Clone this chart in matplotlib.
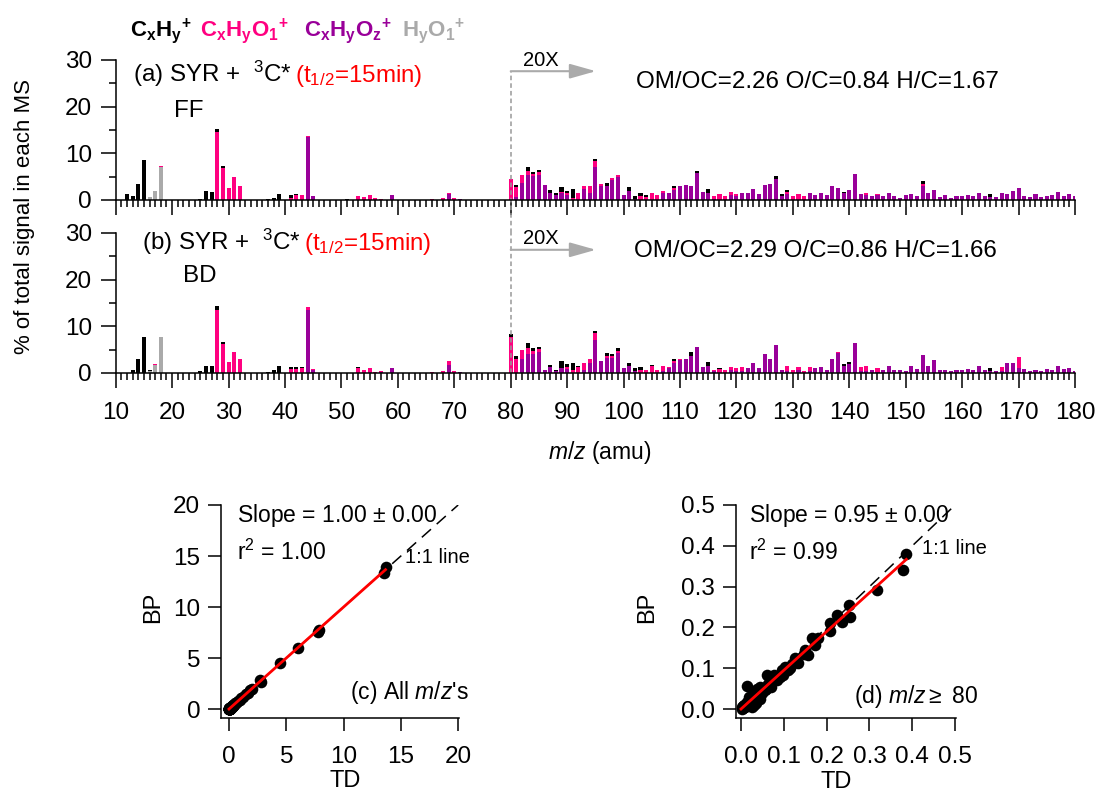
import numpy as np
import matplotlib
matplotlib.use('Agg')
import matplotlib.pyplot as plt

plt.rcParams['font.family'] = ['Liberation Sans', 'DejaVu Sans']
plt.rcParams['mathtext.fontset'] = 'custom'
plt.rcParams['mathtext.rm'] = 'Liberation Sans'
plt.rcParams['mathtext.it'] = 'Liberation Sans:italic'
plt.rcParams['mathtext.bf'] = 'Liberation Sans:bold'

# m/z 10..180, one value per m/z (values for m/z >= 80 are shown x20)
mz = np.arange(10, 181)

# (a) FF
ff_cxhy = [
    0, 0, 1.3, 0.85, 3.4, 8.6, 0, 0, 0, 0,
    0, 0, 0, 0, 0.1, 0.3, 1.9, 1.7, 0.6, 0.5,
    0, 0, 0, 0, 0, 0, 0.1, 0.3, 0.5, 1.3,
    0.1, 0.5, 0.2, 0.1, 0, 0, 0, 0, 0, 0,
    0.1, 0.2, 0.1, 0.1, 0, 0, 0, 0, 0, 0,
    0, 0, 0, 0, 0, 0, 0, 0, 0, 0,
    0, 0, 0, 0, 0, 0, 0, 0, 0, 0,
    0, 0.5, 0, 0.7, 0.4, 0.5, 0, 0.5, 0.4, 1.0,
    0.6, 1.8, 0, 0, 0, 0.4, 0, 0.7, 0, 0,
    0, 0.9, 0.6, 0.7, 0.3, 0, 0, 0, 0, 0.4,
    0, 0, 0, 0.6, 0, 0.9, 0, 0, 0, 0,
    0, 0, 0, 0, 0, 0, 0, 0.7, 0.3, 0.4,
    0, 0, 0, 0, 0, 0, 0, 0, 0, 0.2,
    0, 0, 0, 0, 0, 0, 0, 0, 0, 0,
    0, 0, 0, 0.7, 0, 0, 0, 0, 0, 0,
    0, 0, 0, 0, 0, 0.5, 0, 0, 0, 0,
    0, 0, 0, 0, 0, 0, 0, 0, 0, 0,
    0]
ff_cxhyo1 = [
    0, 0, 0, 0, 0, 0, 0, 0, 0.2, 0,
    0, 0, 0, 0, 0, 0, 0, 0, 14.6, 6.8,
    2.5, 4.9, 3.0, 0, 0, 0, 0, 0, 0, 0,
    0, 0.5, 1.1, 1.0, 0.2, 0, 0, 0, 0, 0,
    0, 0, 0, 0.8, 0.6, 1.0, 0.4, 0.3, 0, 0,
    0, 0, 0, 0, 0, 0, 0.3, 0, 0.5, 0.3,
    0.4, 0, 0, 0, 0, 0, 0, 0, 0, 0,
    4.4, 2.1, 1.8, 0.9, 0.4, 0.6, 0, 0, 0, 0.4,
    0.4, 0.5, 1.4, 0.8, 1.6, 1.3, 0.5, 0, 0.6, 0.4,
    0, 0, 0, 0.9, 0.7, 1.5, 1.1, 0.6, 0, 0.4,
    0, 0, 0, 0, 0, 0, 0.6, 1.2, 0.8, 0.8,
    0.4, 0, 0, 0, 0, 0, 0, 0, 0, 0.4,
    0.9, 1.3, 0.9, 0, 0, 0, 0, 0, 0, 0,
    0, 0, 0, 0.5, 0, 0.2, 0, 0, 0, 0,
    0, 0, 0, 0.3, 0, 0, 0, 0, 0, 0,
    0, 0, 0, 0, 0, 0, 0, 0, 0, 0,
    0, 0, 0, 0, 0, 0, 0, 0, 0, 0,
    0]
ff_cxhyoz = [
    0, 0, 0, 0, 0, 0, 0, 0, 0, 0,
    0, 0, 0, 0, 0, 0, 0, 0, 0, 0,
    0, 0, 0, 0, 0, 0, 0, 0, 0, 0,
    0, 0, 0, 0, 13.5, 0.8, 0, 0, 0, 0,
    0, 0, 0, 0, 0, 0, 0, 0, 0, 1.0,
    0, 0, 0, 0, 0, 0, 0, 0, 0, 1.3,
    0, 0.3, 0, 0, 0, 0, 0, 0, 0, 0,
    0, 0.7, 3.6, 5.4, 5.1, 5.3, 3.2, 1.6, 1.0, 1.4,
    1.0, 0, 0, 2.3, 1.5, 7.1, 2.9, 2.9, 4.2, 4.9,
    1.1, 1.9, 0.3, 0, 0, 0, 0, 1.4, 1.4, 2.1,
    3.1, 3.2, 3.1, 5.7, 1.7, 1.5, 0.2, 0, 0, 1.0,
    0.8, 1.5, 1.5, 2.4, 1.3, 3.2, 3.4, 4.4, 0.9, 1.3,
    0, 0, 0, 1.6, 1.1, 1.5, 1.1, 2.9, 2.6, 1.6,
    2.1, 5.6, 1.3, 1.1, 0.9, 1.0, 0.9, 1.4, 0.9, 0.4,
    1.1, 1.3, 0.9, 3.1, 1.5, 2.1, 0.7, 1.1, 0.5, 0.9,
    0.9, 1.1, 0.9, 1.6, 0.9, 0.7, 0.6, 1.5, 1.3, 1.9,
    2.6, 0.9, 0.7, 1.3, 0.7, 0.9, 1.1, 1.7, 0.9, 1.3,
    0.9]
ff_hyo1 = [0, 0, 0, 0, 0, 0, 0.6, 1.9, 7.1, 0] + [0] * 161

# (b) BD
bd_cxhy = [
    0, 0, 0, 0.7, 2.9, 7.8, 0.1, 0, 0, 0,
    0, 0, 0, 0, 0.1, 0.5, 1.6, 1.6, 0.7, 0.4,
    0, 0, 0, 0, 0, 0, 0, 0.2, 0.6, 1.4,
    0, 0.4, 0.3, 0.1, 0, 0, 0, 0, 0, 0,
    0.1, 0.1, 0.1, 0.1, 0, 0, 0, 0, 0, 0,
    0, 0, 0, 0, 0, 0, 0, 0, 0, 0,
    0, 0, 0, 0, 0, 0, 0, 0, 0, 0,
    0.6, 0.6, 0, 1.1, 0.5, 0.5, 0, 0.5, 0.2, 1.4,
    0.6, 1.6, 0.3, 0, 0, 0.4, 0, 0.6, 0.4, 0.6,
    0, 0.5, 0.6, 0.6, 0, 0.15, 0, 0, 0, 0.4,
    0, 0, 0.7, 0, 0, 0.8, 0, 0.2, 0, 0,
    0, 0, 0, 0, 0, 0, 0, 0, 0, 0,
    0, 0, 0, 0, 0, 0, 0, 0, 0, 0.3,
    0.3, 0, 0, 0, 0, 0, 0, 0, 0, 0,
    0, 0, 0, 0, 0, 0, 0, 0, 0, 0,
    0, 0, 0, 0, 0, 0.6, 0, 0, 0, 0,
    0, 0, 0, 0, 0, 0, 0, 0, 0, 0,
    0]
bd_cxhyo1 = [
    0, 0, 0, 0, 0, 0, 0, 0.2, 0, 0,
    0, 0, 0, 0, 0, 0, 0, 0, 13.6, 6.3,
    2.3, 4.4, 2.9, 0, 0, 0, 0, 0, 0, 0,
    0, 0.9, 0.9, 1.1, 0.5, 0.2, 0, 0, 0, 0,
    0, 0, 0, 1.1, 0.6, 1.1, 0.3, 0.2, 0, 0,
    0, 0, 0, 0, 0, 0, 0.2, 0, 0.4, 0.7,
    0.3, 0, 0, 0, 0, 0, 0, 0, 0, 0,
    7.7, 3.0, 2.0, 1.2, 0.7, 0.5, 0, 0, 0, 0,
    0.4, 0.6, 1.3, 1.4, 1.0, 1.4, 0, 0.4, 0.4, 0.4,
    0, 0, 0, 0.7, 0.6, 1.6, 0.7, 1.1, 0.3, 0.4,
    0.4, 0, 0, 0, 0, 0, 0.2, 0.8, 0.6, 0.7,
    0.6, 0.9, 0, 0, 0, 0, 0, 0, 0, 0.9,
    0.6, 0.7, 0.5, 0.7, 0, 0, 0, 0, 0.3, 0,
    0, 0, 0.9, 0.9, 0, 0.7, 0, 0, 0, 0,
    0, 0, 0, 0, 0, 0, 0, 0, 0, 0,
    0, 0, 0, 0, 0, 0, 0, 0.8, 0, 0,
    2.4, 0, 0, 0, 0, 0, 0, 0, 0, 0,
    0]
bd_cxhyoz = [
    0, 0, 0, 0, 0, 0, 0, 0, 0, 0,
    0, 0, 0, 0, 0, 0, 0, 0, 0, 0,
    0, 0, 0, 0, 0, 0, 0, 0, 0, 0,
    0, 0, 0, 0, 13.6, 0.6, 0, 0, 0, 0,
    0, 0, 0, 0, 0, 0, 0, 0.2, 0, 1.1,
    0, 0, 0, 0, 0, 0, 0, 0, 0, 1.8,
    0.1, 0.3, 0, 0, 0, 0, 0, 0, 0, 0,
    0, 0, 2.9, 4.1, 4.1, 4.6, 0.7, 1.3, 0.5, 1.1,
    0.9, 0, 0, 0.7, 2.1, 7.1, 2.6, 3.2, 3.2, 4.3,
    1.1, 1.6, 0.5, 0, 0, 0, 0, 0.5, 1.0, 2.1,
    2.7, 3.0, 3.7, 5.5, 1.2, 1.6, 0.4, 0, 0, 0.6,
    0.4, 0.4, 1.0, 2.1, 1.0, 4.1, 2.9, 6.1, 0.6, 0.5,
    0, 0.6, 0, 0.5, 1.0, 1.2, 0.7, 2.9, 4.3, 1.6,
    2.0, 6.4, 0.4, 0.5, 0.6, 0.3, 0.6, 1.4, 0.6, 0.6,
    0.4, 1.4, 0.8, 3.8, 1.4, 2.7, 0.6, 0.6, 0.4, 0.6,
    0.6, 0.8, 0.6, 1.6, 0.6, 0.4, 0.4, 0.4, 2.1, 2.1,
    1.1, 0.8, 0.4, 0.6, 0.4, 0.8, 0.6, 1.4, 0.8, 1.1,
    0.5]
bd_hyo1 = [0, 0, 0, 0, 0, 0, 0.5, 1.8, 7.8, 0] + [0] * 161

# scatter: TD vs BP
td_low = [13.66, 13.55, 7.85, 7.73, 5.99, 4.45, 2.79, 2.70, 2.03, 1.83, 1.62, 1.45,
          1.25, 1.05, 0.92, 0.78, 0.65, 0.52, 0.42, 0.33, 0.25, 0.18, 0.12, 0.08, 0.05, 0.03]
bp_low = [13.95, 13.37, 7.70, 7.58, 5.95, 4.48, 2.68, 2.84, 1.96, 1.86, 1.55, 1.50,
          1.15, 1.10, 0.88, 0.82, 0.60, 0.55, 0.40, 0.36, 0.22, 0.20, 0.10, 0.09, 0.04, 0.03]
td_high = [0.386, 0.378, 0.317, 0.251, 0.255, 0.224, 0.235, 0.208, 0.208, 0.165, 0.173, 0.157,
           0.146, 0.126, 0.134, 0.114, 0.103, 0.099, 0.076, 0.060, 0.044, 0.013, 0.120, 0.110,
           0.095, 0.150, 0.180, 0.070, 0.090, 0.085, 0.080, 0.072, 0.068, 0.063, 0.058, 0.055,
           0.052, 0.050, 0.047, 0.045, 0.042, 0.040, 0.038, 0.036, 0.034, 0.032, 0.030, 0.028,
           0.026, 0.024, 0.022, 0.020, 0.019, 0.017, 0.015, 0.014, 0.012, 0.011, 0.009, 0.008,
           0.006, 0.005, 0.004, 0.003, 0.002, 0.025, 0.030, 0.035, 0.045, 0.018, 0.028, 0.038]
bp_high = [0.379, 0.341, 0.292, 0.255, 0.226, 0.230, 0.214, 0.210, 0.190, 0.173, 0.157, 0.132,
           0.136, 0.124, 0.112, 0.100, 0.104, 0.083, 0.083, 0.083, 0.055, 0.056, 0.110, 0.095,
           0.095, 0.145, 0.175, 0.055, 0.078, 0.070, 0.072, 0.066, 0.060, 0.062, 0.050, 0.046,
           0.052, 0.040, 0.043, 0.036, 0.047, 0.030, 0.040, 0.025, 0.036, 0.028, 0.034, 0.020,
           0.030, 0.016, 0.024, 0.012, 0.020, 0.015, 0.010, 0.018, 0.008, 0.013, 0.006, 0.010,
           0.004, 0.007, 0.002, 0.005, 0.001, 0.005, 0.010, 0.015, 0.025, 0.030, 0.040, 0.050]
slope_all = 1.00
slope_high = 0.95

black = '#000000'
pink = '#FF0080'
purple = '#990099'
gray = '#AAAAAA'

fig = plt.figure(figsize=(10.99, 7.99), dpi=100)

ax_a = fig.add_axes([0.10528, 0.74969, 0.87288, 0.17522])
ax_b = fig.add_axes([0.10528, 0.53317, 0.87288, 0.17522])

panels = [
    (ax_a, [ff_hyo1, ff_cxhyoz, ff_cxhyo1, ff_cxhy]),
    (ax_b, [bd_hyo1, bd_cxhyoz, bd_cxhyo1, bd_cxhy]),
]
for ax, series in panels:
    bottom = np.zeros(len(mz))
    for vals, c in zip(series, [gray, purple, pink, black]):
        vals = np.array(vals, dtype=float)
        ax.bar(mz, vals, bottom=bottom, width=0.72, color=c, linewidth=0)
        bottom += vals
    ax.set_xlim(10, 180)
    ax.set_ylim(0, 30)
    ax.set_xticks(np.arange(10, 181, 10))
    ax.set_xticks(np.arange(10, 181, 1), minor=True)
    ax.set_yticks([0, 10, 20, 30])
    ax.set_yticks([5, 15, 25], minor=True)
    for s in ['top', 'right']:
        ax.spines[s].set_visible(False)
    for s in ['left', 'bottom']:
        ax.spines[s].set_linewidth(1.1)
    ax.tick_params(which='major', direction='out', length=11, width=1.1, labelsize=17.5)
    ax.tick_params(which='minor', direction='out', length=5, width=1.1)
    ax.tick_params(axis='x', pad=10)
    ax.tick_params(axis='y', pad=6)
ax_a.tick_params(axis='x', labelbottom=False)

# dashed divider at m/z 80 and 20X arrows
ax_a.plot([80, 80], [-7.07, 27.6], color='#999999', lw=1.1, ls=(0, (3, 2)), clip_on=False)
ax_b.plot([80, 80], [0, 30], color='#999999', lw=1.1, ls=(0, (3, 2)), clip_on=False)
for ax, ya, yt in [(ax_a, 27.6, 28.7), (ax_b, 26.4, 27.6)]:
    ax.annotate('', xy=(95.1, ya), xytext=(80, ya),
                arrowprops=dict(arrowstyle='-|>,head_length=1.6,head_width=0.45',
                                mutation_scale=10, color=gray, lw=1.5,
                                shrinkA=0, shrinkB=0))
    ax.text(82.2, yt, '20X', fontsize=14.5, va='baseline')

ax_a.text(13.1, 25.3, r'(a) SYR +  $^{3}$C*', fontsize=17.4, va='baseline')
ax_a.text(41.8, 25.3, r'(t$_{1/2}$=15min)', fontsize=17.4, color='red', va='baseline')
ax_a.text(20.3, 17.85, 'FF', fontsize=17.4, va='baseline')
ax_a.text(102.2, 24.1, 'OM/OC=2.26 O/C=0.84 H/C=1.67', fontsize=17.4, va='baseline')

ax_b.text(14.6, 26.4, r'(b) SYR +  $^{3}$C*', fontsize=17.4, va='baseline')
ax_b.text(43.4, 26.4, r'(t$_{1/2}$=15min)', fontsize=17.4, color='red', va='baseline')
ax_b.text(21.9, 19.6, 'BD', fontsize=17.4, va='baseline')
ax_b.text(101.9, 24.9, 'OM/OC=2.29 O/C=0.86 H/C=1.66', fontsize=17.4, va='baseline')

# legend-like labels
fig.text(130 / 1099, 1 - 36 / 799, r'$\mathbf{{C_xH_y}^{+}}$', fontsize=16, color=black, va='baseline')
fig.text(200 / 1099, 1 - 36 / 799, r'$\mathbf{{C_xH_yO_1}^{+}}$', fontsize=16, color=pink, va='baseline')
fig.text(304 / 1099, 1 - 36 / 799, r'$\mathbf{{C_xH_yO_z}^{+}}$', fontsize=16, color=purple, va='baseline')
fig.text(402 / 1099, 1 - 36 / 799, r'$\mathbf{{H_yO_1}^{+}}$', fontsize=16, color=gray, va='baseline')

fig.text(25 / 1099, 1 - 217 / 799, '% of total signal in each MS', fontsize=16,
         rotation=90, ha='center', va='center')
fig.text(600 / 1099, 1 - 452 / 799, r'$\it{m/z}$ (amu)', fontsize=16.5, ha='center', va='center')

# scatter panels
ax_c = fig.add_axes([0.20109, 0.10175, 0.21684, 0.26621])
ax_d = fig.add_axes([0.66970, 0.10175, 0.20018, 0.26621])

td_all = td_low + td_high
bp_all = bp_low + bp_high

ax_c.scatter(td_all, bp_all, s=70, color='black', linewidths=0, zorder=3)
ax_c.plot([0, 20], [0, 20], color='black', lw=1.1, dashes=(8, 5), zorder=4)
xm = max(td_all)
ax_c.plot([0, xm], [0, slope_all * xm], color='red', lw=2.0, zorder=5)
ax_c.set_xlim(-0.7, 20.1)
ax_c.set_ylim(-0.85, 20)
ax_c.set_xticks([0, 5, 10, 15, 20])
ax_c.set_yticks([0, 5, 10, 15, 20])
ax_c.text(0.7, 18.3, r'Slope = 1.00 $\pm$ 0.00', fontsize=16.5, va='baseline')
ax_c.text(0.67, 14.6, r'r$^{2}$ = 1.00', fontsize=16.5, va='baseline')
ax_c.text(15.4, 14.3, '1:1 line', fontsize=14.5, va='baseline')
ax_c.text(20.9, 0.95, r"(c) All $\it{m/z}$'s", fontsize=16.5, ha='right', va='baseline')

ax_d.scatter(td_high, bp_high, s=70, color='black', linewidths=0, zorder=3)
ax_d.plot([0, 0.5], [0, 0.5], color='black', lw=1.1, dashes=(8, 5), zorder=4)
xm = max(td_high)
ax_d.plot([0, xm], [0, slope_high * xm], color='red', lw=2.0, zorder=5)
ax_d.set_xlim(-0.0117, 0.502)
ax_d.set_ylim(-0.0213, 0.5)
ticks = [0.0, 0.1, 0.2, 0.3, 0.4, 0.5]
ax_d.set_xticks(ticks)
ax_d.set_xticklabels(['%.1f' % t for t in ticks])
ax_d.set_yticks(ticks)
ax_d.set_yticklabels(['%.1f' % t for t in ticks])
ax_d.text(0.0195, 0.4576, r'Slope = 0.95 $\pm$ 0.00', fontsize=16.5, va='baseline')
ax_d.text(0.0195, 0.365, r'r$^{2}$ = 0.99', fontsize=16.5, va='baseline')
ax_d.text(0.4237, 0.38, '1:1 line', fontsize=14.5, va='baseline')
ax_d.text(0.554, 0.014, r'(d) $\it{m/z}$$\geq$ 80', fontsize=16.5, ha='right', va='baseline')

for ax in (ax_c, ax_d):
    for s in ['top', 'right']:
        ax.spines[s].set_visible(False)
    for s in ['left', 'bottom']:
        ax.spines[s].set_linewidth(1.1)
    ax.tick_params(direction='out', length=9.5, width=1.1, labelsize=17.5)
    ax.tick_params(axis='x', pad=11)
    ax.tick_params(axis='y', pad=5.5)

fig.text(153 / 1099, 1 - 607 / 799, 'BP', fontsize=17, rotation=90, ha='center', va='center')
fig.text(647 / 1099, 1 - 607 / 799, 'BP', fontsize=17, rotation=90, ha='center', va='center')
fig.text(345 / 1099, 1 - 781 / 799, 'TD', fontsize=17, ha='center', va='center')
fig.text(836 / 1099, 1 - 782 / 799, 'TD', fontsize=17, ha='center', va='center')

fig.savefig('out.png', dpi=100)
